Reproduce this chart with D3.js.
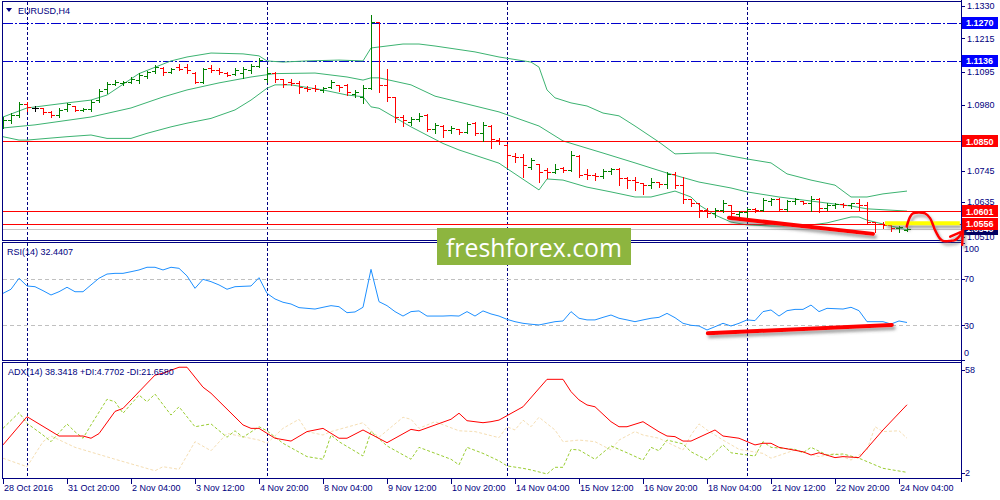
<!DOCTYPE html>
<html><head><meta charset="utf-8">
<script src="https://cdn.jsdelivr.net/npm/d3@7/dist/d3.min.js"></script>
<style>
html,body{margin:0;padding:0;background:#fff;}
svg{display:block;font-family:"Liberation Sans",Arial,sans-serif;}
</style></head><body>
<svg id="chart" width="1000" height="500"></svg>
<script>
// ---------------- DATA ----------------
const symbolTitle = "EURUSD,H4";
const timeLabels = ["28 Oct 2016","31 Oct 20:00","2 Nov 04:00","3 Nov 12:00","4 Nov 20:00","8 Nov 04:00","9 Nov 12:00","10 Nov 20:00","14 Nov 04:00","15 Nov 12:00","16 Nov 20:00","18 Nov 04:00","21 Nov 12:00","22 Nov 20:00","24 Nov 04:00"];
const timeLabelIdx = [0,8,16,24,32,40,48,56,64,72,80,88,96,104,112];
const weekStartIdx = [3,33,63,93];

const open  = [1.0904,1.0925,1.0943,1.0982,1.0968,1.0968,1.0954,1.0943,1.0964,1.0975,1.0961,1.0964,1.0996,1.1036,1.1053,1.1057,1.1060,1.1067,1.1082,1.1099,1.1110,1.1096,1.1113,1.1113,1.1092,1.1060,1.1110,1.1103,1.1092,1.1089,1.1092,1.1103,1.1117,1.1071,1.1092,1.1071,1.1060,1.1057,1.1039,1.1039,1.1032,1.1043,1.1050,1.1050,1.1018,1.1007,1.1039,1.1273,1.1050,1.1007,1.0936,1.0918,1.0929,1.0943,1.0894,1.0904,1.0890,1.0894,1.0884,1.0915,1.0880,1.0904,1.0854,1.0837,1.0798,1.0794,1.0759,1.0769,1.0748,1.0741,1.0755,1.0748,1.0798,1.0734,1.0730,1.0727,1.0744,1.0752,1.0720,1.0712,1.0702,1.0694,1.0705,1.0698,1.0734,1.0694,1.0645,1.0631,1.0606,1.0595,1.0606,1.0624,1.0592,1.0599,1.0610,1.0606,1.0638,1.0645,1.0610,1.0638,1.0638,1.0631,1.0645,1.0613,1.0624,1.0627,1.0624,1.0631,1.0624,1.0563,1.0556,1.0553,1.0542,1.0535];
const high  = [1.0936,1.0950,1.0989,1.0989,1.0975,1.0968,1.0958,1.0968,1.0986,1.0975,1.0968,1.0996,1.1036,1.1060,1.1067,1.1064,1.1078,1.1092,1.1099,1.1121,1.1113,1.1110,1.1124,1.1124,1.1096,1.1110,1.1121,1.1110,1.1096,1.1110,1.1113,1.1124,1.1145,1.1110,1.1096,1.1071,1.1071,1.1064,1.1046,1.1050,1.1043,1.1067,1.1050,1.1053,1.1032,1.1050,1.1298,1.1273,1.1106,1.1007,1.0943,1.0936,1.0950,1.0947,1.0915,1.0908,1.0904,1.0894,1.0918,1.0918,1.0918,1.0908,1.0863,1.0840,1.0808,1.0805,1.0790,1.0769,1.0755,1.0769,1.0759,1.0815,1.0801,1.0752,1.0737,1.0752,1.0755,1.0755,1.0723,1.0723,1.0702,1.0720,1.0705,1.0741,1.0741,1.0723,1.0645,1.0631,1.0613,1.0613,1.0642,1.0624,1.0602,1.0613,1.0613,1.0649,1.0649,1.0649,1.0642,1.0649,1.0638,1.0656,1.0649,1.0631,1.0631,1.0631,1.0631,1.0645,1.0634,1.0563,1.0563,1.0556,1.0549,1.0556];
const low   = [1.0897,1.0915,1.0936,1.0958,1.0958,1.0947,1.0936,1.0936,1.0958,1.0958,1.0958,1.0958,1.0989,1.1021,1.1050,1.1050,1.1057,1.1057,1.1075,1.1092,1.1085,1.1092,1.1103,1.1092,1.1057,1.1057,1.1096,1.1089,1.1082,1.1085,1.1075,1.1092,1.1113,1.1060,1.1060,1.1043,1.1050,1.1021,1.1029,1.1029,1.1025,1.1039,1.1029,1.1014,1.1007,1.0986,1.1036,1.1025,1.0993,1.0918,1.0904,1.0908,1.0922,1.0887,1.0880,1.0866,1.0880,1.0877,1.0880,1.0873,1.0851,1.0827,1.0840,1.0759,1.0776,1.0723,1.0752,1.0705,1.0720,1.0737,1.0741,1.0744,1.0723,1.0716,1.0712,1.0720,1.0734,1.0694,1.0684,1.0677,1.0663,1.0684,1.0687,1.0684,1.0684,1.0631,1.0620,1.0581,1.0581,1.0581,1.0599,1.0578,1.0578,1.0578,1.0599,1.0602,1.0624,1.0602,1.0602,1.0627,1.0627,1.0602,1.0599,1.0606,1.0613,1.0617,1.0613,1.0602,1.0560,1.0529,1.0542,1.0531,1.0529,1.0531];
const close = [1.0925,1.0943,1.0982,1.0972,1.0968,1.0954,1.0943,1.0961,1.0982,1.0961,1.0964,1.0989,1.1029,1.1053,1.1060,1.1060,1.1071,1.1085,1.1096,1.1113,1.1096,1.1106,1.1106,1.1103,1.1060,1.1106,1.1103,1.1096,1.1085,1.1103,1.1106,1.1117,1.1138,1.1092,1.1071,1.1053,1.1057,1.1043,1.1036,1.1036,1.1039,1.1060,1.1043,1.1025,1.1025,1.1039,1.1273,1.1050,1.1007,1.0936,1.0925,1.0929,1.0940,1.0894,1.0908,1.0890,1.0897,1.0884,1.0911,1.0880,1.0908,1.0858,1.0851,1.0801,1.0794,1.0766,1.0783,1.0741,1.0741,1.0752,1.0748,1.0801,1.0730,1.0730,1.0727,1.0744,1.0752,1.0720,1.0712,1.0705,1.0694,1.0705,1.0698,1.0734,1.0694,1.0645,1.0631,1.0606,1.0595,1.0606,1.0631,1.0595,1.0599,1.0610,1.0606,1.0642,1.0645,1.0610,1.0638,1.0645,1.0631,1.0645,1.0613,1.0624,1.0627,1.0624,1.0631,1.0624,1.0563,1.0556,1.0553,1.0542,1.0546,1.0540];

// Bollinger bands (bar index, price)
const bbUpper = [[0,1.0936],[3,1.0968],[8,1.0986],[11,1.0996],[13,1.1014],[17,1.1090],[21,1.1135],[23,1.1149],[26,1.1163],[30,1.1160],[32,1.1153],[33,1.1135],[35,1.1131],[38,1.1135],[42,1.1138],[45,1.1135],[46,1.1181],[50,1.1195],[52,1.1195],[54,1.1188],[59,1.1167],[62,1.1149],[66,1.1131],[67,1.1113],[68,1.1032],[69,1.1004],[71,1.0986],[73,1.0975],[75,1.0950],[77,1.0940],[79,1.0904],[82,1.0847],[84,1.0805],[87,1.0808],[89,1.0808],[93,1.0787],[96,1.0773],[98,1.0734],[101,1.0712],[104,1.0694],[106,1.0652],[108,1.0652],[110,1.0663],[113,1.0673]];
const bbMiddle = [[0,1.0897],[4,1.0908],[11,1.0936],[16,1.0968],[20,1.1007],[23,1.1032],[27,1.1057],[31,1.1078],[34,1.1090],[39,1.1092],[43,1.1078],[45,1.1067],[46,1.1075],[47,1.1075],[51,1.1050],[54,1.1010],[58,1.0982],[62,1.0954],[67,1.0904],[70,1.0851],[75,1.0808],[79,1.0773],[83,1.0737],[87,1.0705],[91,1.0684],[93,1.0670],[97,1.0652],[102,1.0634],[106,1.0620],[108,1.0610],[113,1.0602]];
const bbLower = [[0,1.0866],[2,1.0854],[3,1.0854],[8,1.0866],[11,1.0872],[13,1.0860],[16,1.0860],[18,1.0878],[21,1.0901],[23,1.0914],[26,1.0931],[29,1.0961],[31,1.0996],[33,1.1038],[34,1.1050],[36,1.1050],[40,1.1032],[43,1.1014],[45,1.1008],[46,1.0972],[47,1.0967],[51,1.0901],[55,1.0842],[57,1.0819],[62,1.0772],[67,1.0677],[68,1.0716],[70,1.0712],[73,1.0687],[76,1.0670],[79,1.0652],[81,1.0652],[84,1.0673],[86,1.0652],[87,1.0624],[89,1.0588],[91,1.0563],[93,1.0553],[96,1.0549],[100,1.0549],[103,1.0560],[106,1.0581],[107,1.0581],[108,1.0570],[110,1.0556],[113,1.0535]];

const blueLevels = [1.1270, 1.1136];
const redLevels = [1.0850, 1.0601, 1.0556];
const bidPrice = 1.0540;
const priceTicks = ["1.1330","1.1215","1.1095","1.0980","1.0745","1.0635","1.0510"];

// RSI(14)
const rsiTitle = "RSI(14) 32.4407";
const rsi = [57.3,60.8,70.2,63.6,63.0,59.6,55.9,58.7,62.5,58.7,
 58.7,64.5,70.2,73.8,74.4,74.4,75.8,77.3,79.6,79.6,
 77.3,79.6,78.7,72.2,61.6,69.3,67.3,64.5,60.8,63.0,
 63.3,63.6,70.7,57.3,52.5,49.7,48.2,45.1,44.5,43.9,
 45.4,46.8,45.9,40.8,41.4,45.4,77.8,50.2,46.8,41.7,
 37.9,41.7,42.3,37.9,37.9,37.9,38.2,37.9,41.7,37.9,
 42.3,39.7,37.9,35.1,33.1,31.7,30.9,30.3,31.7,33.1,
 33.7,41.7,36.0,34.6,34.6,36.8,38.8,36.0,34.6,33.1,
 34.6,36.0,36.8,40.2,36.5,31.7,30.0,29.4,26.0,28.8,
 31.7,29.4,31.7,34.6,34.0,41.7,43.1,37.9,42.5,43.6,
 43.6,47.3,41.7,44.5,44.2,43.9,45.4,42.5,33.1,33.1,
 33.1,31.1,33.7,32.4];
const rsiLevels = [70, 30];
const rsiTicks = [100, 70, 30, 0];

// ADX(14)
const adxTitle = "ADX(14) 38.3418 +DI:4.7702 -DI:21.6580";
const adx = [[0,18.4],[3,32.4],[7,22.8],[10,22.8],[11,21.7],[12,24],[14,35],[15,36.5],[19,53],[20,53.9],[22,56.9],[23,56.9],[25,47],[26,44],[30,28.3],[31,26.6],[32,26.6],[34,21.7],[36,20.3],[38,25],[40,26.6],[42,21.7],[43,21.7],[45,25.8],[48,19.5],[51,26.1],[52,25.4],[56,31.1],[57,34.1],[58,30.4],[60,29.4],[61,29.9],[62,30.7],[65,37.3],[68,50.9],[70,50.9],[71,44.8],[72,40.7],[73,38.2],[74,37.3],[76,29.9],[77,27.4],[78,27.4],[80,29.9],[82,24.9],[83,22.8],[84,22.5],[85,20.3],[86,20.3],[89,25.8],[90,22.8],[92,21.7],[94,18.4],[95,19.2],[96,19.2],[97,17.2],[100,15.0],[101,13.4],[102,14.5],[104,12.1],[105,12.6],[107,12.1],[110,25.8],[113,38.3]];
const plusDI = [[0,26.6],[2,34.4],[3,29.1],[5,23.3],[6,20],[8,28.8],[9,24.9],[10,21.7],[11,28.3],[13,41],[14,39.8],[15,34.1],[17,43.1],[18,39.8],[19,43.6],[21,33.2],[22,37.3],[24,27.4],[26,28.8],[28,22.2],[29,25.4],[30,22.2],[32,27.4],[33,25.4],[35,19.2],[38,12.6],[40,11.3],[41,23.3],[42,20],[45,12.9],[46,25],[48,17.9],[51,11.3],[52,17.2],[56,11.3],[57,8.5],[58,17.2],[60,14.2],[62,10.5],[63,8],[65,6.8],[66,6],[68,4],[69,7.3],[70,7.3],[71,16.2],[72,15.9],[74,11.3],[76,17.9],[78,14.5],[80,10.9],[81,17.2],[82,15.5],[83,20.8],[85,18.9],[86,15],[88,10.9],[90,18.4],[91,14.5],[94,12.9],[95,20],[96,17.2],[99,16.2],[100,14.5],[101,17.2],[103,13.4],[105,13.9],[107,11.8],[110,6.8],[113,4.8]];
const minusDI = [[0,11.8],[3,7.6],[5,20],[6,22.8],[9,17.2],[14,11.3],[19,5.6],[20,7.6],[22,6.3],[24,20],[26,15.5],[28,24.1],[32,20.8],[33,19.2],[35,26.6],[37,31.1],[38,25],[40,23.3],[41,25],[45,29.4],[46,25.4],[47,22.2],[50,32.1],[51,31.1],[52,26.6],[54,29.9],[57,25.4],[59,25],[62,22],[63,27.4],[64,25.8],[65,30.7],[66,27.4],[67,32.1],[69,25.8],[70,20],[72,20.8],[74,20],[76,15.9],[77,20.8],[79,25],[80,23.3],[82,21.7],[85,15.9],[86,23.3],[87,28.8],[88,25.8],[90,20.8],[92,16.2],[95,14.2],[96,11.8],[99,15.9],[102,12.6],[104,14.2],[106,10.9],[108,15.9],[109,27.4],[110,25],[112,25.4],[113,21.7]];
const adxTicks = [58, 2];

// hand-drawn annotations (bar index, value)
const annoPriceLine = [[90.75,1.0578],[108.75,1.0521]];
const annoRsiLine = [[88.1,23.2],[111.1,30.3]];
const annoYellow = [[110.25,1.0559],[119.6,1.0559]];
const annoCurve = [[112.96,1.0547],[113.4,1.0582],[113.75,1.0594],[115.25,1.0594],[115.9,1.0576],[116.5,1.0535],[117.1,1.0505],[117.5,1.0496],[118.4,1.0496],[119,1.0499],[119.6,1.0514],[120,1.0535]];
const annoArrowA = [[118.4,1.0511],[119.85,1.0529]];
const annoArrowB = [[120,1.0535],[119.9,1.0482]];
const watermark = "freshforex.com";

// ---------------- DRAW ----------------
const svg = d3.select("#chart");
const NAVY = "#000080";
const panelL = 2.5, panelR = 961.5;
const main = {top:1.5, bot:240.5}, rsiP = {top:242.5, bot:360.5}, adxP = {top:362.5, bot:478.5};

const x = d3.scaleLinear().domain([0,113]).range([3,907]);
const yP = d3.scaleLinear().domain([1.04993,1.13442]).range([240,2]);
const yR = d3.scaleLinear().domain([0,100]).range([360.4,243.4]);
const yA = d3.scaleLinear().domain([2,58]).range([478,365]);
const cr = v => Math.round(v) + 0.5;

const defs = svg.append("defs");
[["clipMain",main],["clipRsi",rsiP],["clipAdx",adxP]].forEach(([id,p])=>{
  defs.append("clipPath").attr("id",id).append("rect")
    .attr("x",3).attr("y",p.top+0.5).attr("width",958).attr("height",p.bot-p.top-1);
});
const f = defs.append("filter").attr("id","shadow").attr("x","-20%").attr("y","-50%").attr("width","140%").attr("height","300%");
f.append("feDropShadow").attr("dx",2).attr("dy",3).attr("stdDeviation",1.6).attr("flood-color","#555").attr("flood-opacity",0.55);

svg.append("rect").attr("width",1000).attr("height",500).attr("fill","#fff");

const gMain = svg.append("g").attr("clip-path","url(#clipMain)");
const gRsi = svg.append("g").attr("clip-path","url(#clipRsi)");
const gAdx = svg.append("g").attr("clip-path","url(#clipAdx)");

// week separators through all panels
[[gMain,main],[gRsi,rsiP],[gAdx,adxP]].forEach(([g,p])=>{
  g.selectAll(null).data(weekStartIdx).join("line")
    .attr("x1",d=>cr(x(d))).attr("x2",d=>cr(x(d))).attr("y1",p.top).attr("y2",p.bot)
    .attr("stroke",NAVY).attr("stroke-width",1).attr("stroke-dasharray","3,2").attr("shape-rendering","crispEdges");
});

// horizontal levels
gMain.selectAll(null).data(blueLevels).join("line")
  .attr("x1",3).attr("x2",961).attr("y1",d=>cr(yP(d))).attr("y2",d=>cr(yP(d)))
  .attr("stroke","#0000cd").attr("stroke-width",1).attr("stroke-dasharray","10,2,2,2").attr("shape-rendering","crispEdges");
gMain.append("line").attr("x1",3).attr("x2",961).attr("y1",cr(yP(bidPrice))).attr("y2",cr(yP(bidPrice)))
  .attr("stroke","#c8c8c8").attr("stroke-width",1).attr("shape-rendering","crispEdges");

// Bollinger bands
const lineP = d3.line().x(d=>x(d[0])).y(d=>yP(d[1]));
[bbUpper,bbMiddle,bbLower].forEach(arr=>{
  gMain.append("path").attr("d",lineP(arr)).attr("fill","none").attr("stroke","#3cb371").attr("stroke-width",1);
});

gMain.selectAll(null).data(redLevels).join("line")
  .attr("x1",3).attr("x2",961).attr("y1",d=>cr(yP(d))).attr("y2",d=>cr(yP(d)))
  .attr("stroke","#ff0000").attr("stroke-width",1).attr("shape-rendering","crispEdges");

// OHLC bars
const bars = close.map((c,i)=>({i,o:open[i],h:high[i],l:low[i],c}));
gMain.selectAll("path.bar").data(bars).join("path").attr("class","bar")
  .attr("d",d=>{const X=x(d.i)+0.5;
    return `M${X},${Math.round(yP(d.h))}V${Math.round(yP(d.l))+1}M${X-3.5},${cr(yP(d.o))}H${X}M${X},${cr(yP(d.c))}H${X+3.5}`;})
  .attr("fill","none").attr("stroke-width",1).attr("shape-rendering","crispEdges")
  .attr("stroke",d=>d.c>d.o?"#008000":(d.c<d.o?"#ff0000":"#000000"));

// RSI
gRsi.selectAll(null).data(rsiLevels).join("line")
  .attr("x1",3).attr("x2",961).attr("y1",d=>cr(yR(d))).attr("y2",d=>cr(yR(d)))
  .attr("stroke","#c0c0c0").attr("stroke-dasharray","4,3").attr("shape-rendering","crispEdges");
gRsi.append("path").datum(rsi).attr("d",d3.line().x((d,i)=>x(i)).y(d=>yR(d)))
  .attr("fill","none").attr("stroke","#1e90ff").attr("stroke-width",1);

// ADX
const lineA = d3.line().x(d=>x(d[0])).y(d=>yA(d[1]));
gAdx.append("path").attr("d",lineA(minusDI)).attr("fill","none").attr("stroke","#f5deb3").attr("stroke-width",1).attr("stroke-dasharray","3,2");
gAdx.append("path").attr("d",lineA(plusDI)).attr("fill","none").attr("stroke","#9acd32").attr("stroke-width",1).attr("stroke-dasharray","3,2");
gAdx.append("path").attr("d",lineA(adx)).attr("fill","none").attr("stroke","#ff0000").attr("stroke-width",1);

// panel borders
[main,rsiP,adxP].forEach(p=>{
  svg.append("rect").attr("x",panelL).attr("y",p.top).attr("width",panelR-panelL).attr("height",p.bot-p.top)
    .attr("fill","none").attr("stroke",NAVY).attr("stroke-width",1).attr("shape-rendering","crispEdges");
});
svg.append("line").attr("x1",panelR).attr("x2",panelR).attr("y1",0).attr("y2",482)
  .attr("stroke",NAVY).attr("shape-rendering","crispEdges");

// titles
svg.append("path").attr("d","M6,8L12,8L9,12Z").attr("fill",NAVY);
const txt = (t,xx,yy,opts={}) => svg.append("text").attr("x",xx).attr("y",yy).text(t)
  .attr("font-size",opts.size||9).attr("fill",opts.fill||NAVY).attr("font-weight",opts.weight||"normal")
  .attr("text-anchor",opts.anchor||"start");
txt(symbolTitle,18,14);
txt(rsiTitle,7,255);
txt(adxTitle,8,375);

// price axis ticks + labels
priceTicks.forEach(t=>{
  const yy = yP(+t);
  svg.append("line").attr("x1",961).attr("x2",965).attr("y1",cr(yy)).attr("y2",cr(yy)).attr("stroke",NAVY).attr("shape-rendering","crispEdges");
  txt(t,967,yy+3.3);
});
// boxed price labels
const boxLabel = (v,bg) => {
  const yy = yP(v);
  svg.append("rect").attr("x",962).attr("y",Math.round(yy)-6).attr("width",36).attr("height",12).attr("fill",bg);
  txt(v.toFixed(4),966,yy+3.3,{fill:"#fff",weight:"bold"});
};
boxLabel(bidPrice,"#000060");
blueLevels.forEach(v=>boxLabel(v,"#0000ff"));
redLevels.forEach(v=>boxLabel(v,"#ff0000"));

// RSI scale
rsiTicks.forEach(t=>{
  let yy = yR(t);
  svg.append("line").attr("x1",961).attr("x2",965).attr("y1",cr(yy)).attr("y2",cr(yy)).attr("stroke",NAVY).attr("shape-rendering","crispEdges");
  const ly = Math.min(Math.max(yy, rsiP.top+6.5), rsiP.bot-7.5);
  txt(String(t),964,ly+3.3);
});
// ADX scale
adxTicks.forEach(t=>{
  let yy = yA(t);
  const ly = Math.min(Math.max(yy, adxP.top+7.5), adxP.bot-5.5);
  svg.append("line").attr("x1",961).attr("x2",965).attr("y1",cr(ly)).attr("y2",cr(ly)).attr("stroke",NAVY).attr("shape-rendering","crispEdges");
  txt(String(t),965,ly+3.3);
});

// time axis
timeLabelIdx.forEach((idx,k)=>{
  const xx = cr(x(idx));
  svg.append("line").attr("x1",xx).attr("x2",xx).attr("y1",478).attr("y2",484).attr("stroke",NAVY).attr("shape-rendering","crispEdges");
  txt(timeLabels[k], xx+0.5, 491);
});

// watermark
svg.append("rect").attr("x",437).attr("y",228).attr("width",194).attr("height",37).attr("fill","#8db53f");
svg.append("text").attr("x",446).attr("y",257).text(watermark)
  .attr("font-family","'Open Sans',sans-serif").attr("font-size",25).attr("fill","#fff")
  .attr("textLength",176).attr("lengthAdjust","spacingAndGlyphs");

// annotations
const ann = svg.append("g").attr("filter","url(#shadow)");
ann.append("path").attr("d",lineP(annoYellow)).attr("stroke","#ffff00").attr("stroke-width",4).attr("fill","none");
ann.append("path").attr("d",lineP(annoPriceLine)).attr("stroke","#ff0000").attr("stroke-width",4).attr("stroke-linecap","round").attr("fill","none");
ann.append("path").attr("d",d3.line().x(d=>x(d[0])).y(d=>yR(d[1]))(annoRsiLine)).attr("stroke","#ff0000").attr("stroke-width",4).attr("stroke-linecap","round").attr("fill","none");
const curveL = d3.line().x(d=>x(d[0])).y(d=>yP(d[1])).curve(d3.curveCatmullRom);
ann.append("path").attr("d",curveL(annoCurve)).attr("stroke","#ff0000").attr("stroke-width",2.5).attr("stroke-linecap","round").attr("fill","none");
ann.append("path").attr("d",lineP(annoArrowA)).attr("stroke","#ff0000").attr("stroke-width",2.5).attr("stroke-linecap","round").attr("fill","none");
ann.append("path").attr("d",lineP(annoArrowB)).attr("stroke","#ff0000").attr("stroke-width",2.5).attr("stroke-linecap","round").attr("fill","none");
</script>
</body></html>
